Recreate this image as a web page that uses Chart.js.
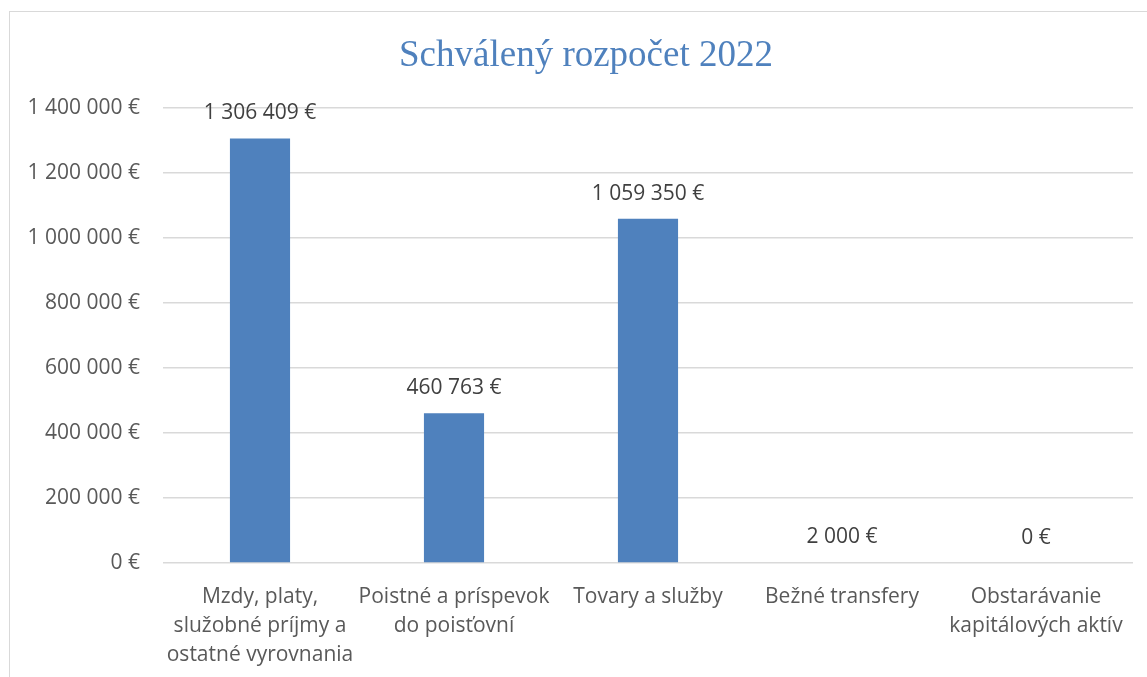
<!DOCTYPE html>
<html>
<head>
<meta charset="utf-8">
<script src="https://cdn.jsdelivr.net/npm/chart.js@4.4.0/dist/chart.umd.min.js"></script>
<style>
  html, body { margin: 0; padding: 0; background: #ffffff; overflow: hidden; }
  #frame { position: absolute; left: 9px; top: 11px; width: 1160px; height: 700px; border: 1.5px solid #d9d9d9; box-sizing: border-box; }
  #c { position: absolute; left: 0; top: 0; }
</style>
</head>
<body>
<div id="frame"></div>
<canvas id="c" width="1147" height="677"></canvas>
<script>
const chartTitle = 'Schválený rozpočet 2022';
const categories = [
  ['Mzdy, platy,', 'služobné príjmy a', 'ostatné vyrovnania'],
  ['Poistné a príspevok', 'do poisťovní'],
  ['Tovary a služby'],
  ['Bežné transfery'],
  ['Obstarávanie', 'kapitálových aktív']
];
const values = [1306409, 460763, 1059350, 2000, 0];
const yTicks = [0, 200000, 400000, 600000, 800000, 1000000, 1200000, 1400000];

function fmtEuro(v) {
  return String(Math.round(v)).replace(/\B(?=(\d{3})+(?!\d))/g, ' ') + ' €';
}

const FONT = "'Open Sans', 'Liberation Sans', sans-serif";

const dataLabels = {
  id: 'dataLabels',
  afterDatasetsDraw(chart) {
    const ctx = chart.ctx;
    const meta = chart.getDatasetMeta(0);
    ctx.save();
    ctx.font = '21px ' + FONT;
    ctx.fillStyle = '#404040';
    ctx.textAlign = 'center';
    ctx.textBaseline = 'middle';
    meta.data.forEach((bar, i) => {
      ctx.fillText(fmtEuro(values[i]), bar.x, bar.y - 25);
    });
    ctx.restore();
  }
};

const titlePlugin = {
  id: 'frameTitle',
  afterDraw(chart) {
    const ctx = chart.ctx;
    ctx.save();
    ctx.font = "37px 'Liberation Serif', 'Times New Roman', serif";
    ctx.fillStyle = '#4f81bd';
    ctx.textAlign = 'center';
    ctx.textBaseline = 'middle';
    ctx.fillText(chartTitle, 586, 56);
    ctx.restore();
  }
};

new Chart(document.getElementById('c'), {
  type: 'bar',
  data: {
    labels: categories,
    datasets: [{
      data: values,
      backgroundColor: '#4f81bd',
      borderWidth: 0,
      categoryPercentage: 1,
      barPercentage: 0.31
    }]
  },
  options: {
    responsive: false,
    animation: false,
    layout: { padding: { left: 0, right: 14, top: 108, bottom: 0 } },
    plugins: {
      legend: { display: false },
      tooltip: { enabled: false },
      title: { display: false }
    },
    scales: {
      x: {
        grid: { display: false, drawTicks: false },
        border: { display: false },
        ticks: {
          color: '#595959',
          font: { family: FONT, size: 21, lineHeight: 1.38 },
          padding: 20,
          maxRotation: 0,
          autoSkip: false
        },
        afterFit(scale) { scale.height = 114; }
      },
      y: {
        min: 0,
        max: 1400000,
        afterBuildTicks(scale) { scale.ticks = yTicks.map(v => ({ value: v })); },
        grid: { color: '#d9d9d9', lineWidth: 1.5, drawTicks: false },
        border: { display: false },
        ticks: {
          color: '#595959',
          font: { family: FONT, size: 21 },
          padding: 23,
          callback: (v) => fmtEuro(v)
        },
        afterFit(scale) { scale.width = 163; }
      }
    }
  },
  plugins: [dataLabels, titlePlugin]
});
</script>
</body>
</html>
